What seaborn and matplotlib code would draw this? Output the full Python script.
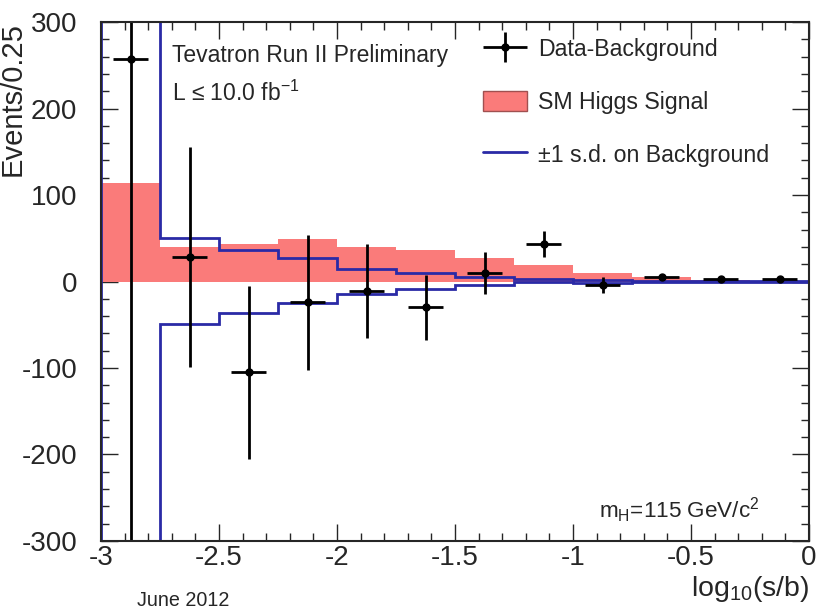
import numpy as np
import seaborn as sns
import matplotlib.pyplot as plt
from matplotlib.patches import Patch
from matplotlib.lines import Line2D
from matplotlib.legend_handler import HandlerErrorbar
from matplotlib.ticker import MultipleLocator

# bin edges in log10(s/b)
edges = [-3.0, -2.75, -2.5, -2.25, -2.0, -1.75, -1.5, -1.25, -1.0, -0.75, -0.5, -0.25, 0.0]

# SM Higgs signal per bin
signal = [114, 40, 43, 49, 40, 36, 27, 19, 10, 5, 2, 1]

# +-1 s.d. on background (first bin is off scale)
bkg_up = [400, 50, 37, 27, 15, 10, 5, 3, 1.5, 1, 0.5, 0.5]
bkg_down = [-400, -49, -36, -25, -15, -9, -4, -1, -1.5, -1, -0.5, -0.5]

# data minus background
data_x = [-2.875, -2.625, -2.375, -2.125, -1.875, -1.625, -1.375, -1.125, -0.875, -0.625, -0.375, -0.125]
data_y = [257, 28, -105, -24, -11, -30, 10, 43, -4, 5, 2.5, 2.5]
data_err = [600, 127, 100, 78, 54, 38, 24, 15, 9, 3, 2, 2]

sns.set_style("ticks")
plt.rcParams["font.family"] = ["Liberation Sans", "DejaVu Sans"]
plt.rcParams["axes.unicode_minus"] = False
plt.rcParams["mathtext.fontset"] = "custom"
plt.rcParams["mathtext.rm"] = "Liberation Sans"
plt.rcParams["mathtext.it"] = "Liberation Sans"

fig = plt.figure(figsize=(8.18, 6.13), dpi=100)
ax = fig.add_axes([0.1235, 0.1175, 0.8655, 0.8465])

red = "#fa7b7a"
blue = "#2a2aa6"

centers = [(a + b) / 2 for a, b in zip(edges[:-1], edges[1:])]
sns.histplot(x=centers, weights=signal, bins=edges, element="step", fill=True,
             color=red, alpha=1, linewidth=0, ax=ax)

ax.stairs(bkg_up, edges, baseline=0, color=blue, linewidth=2)
ax.stairs(bkg_down, edges, baseline=0, color=blue, linewidth=2)

data_eb = ax.errorbar(data_x, data_y, xerr=0.073, yerr=data_err, fmt="o", color="black",
                      markersize=5, elinewidth=2, capsize=0)

ax.set_xlim(-3, 0)
ax.set_ylim(-300, 300)
ax.xaxis.set_major_locator(MultipleLocator(0.5))
ax.xaxis.set_minor_locator(MultipleLocator(0.1))
ax.yaxis.set_major_locator(MultipleLocator(100))
ax.yaxis.set_minor_locator(MultipleLocator(20))
ax.tick_params(which="both", direction="in", top=True, right=True, labelsize=20)
ax.tick_params(axis="x", pad=3)
ax.tick_params(axis="y", pad=17)
ax.tick_params(which="major", length=12, width=1)
ax.tick_params(which="minor", length=6, width=1)
ax.set_xticks([-3, -2.5, -2, -1.5, -1, -0.5, 0])
ax.set_xticklabels(["-3", "-2.5", "-2", "-1.5", "-1", "-0.5", "0"])
for s in ax.spines.values():
    s.set_linewidth(1.5)

ax.set_xlabel("log$_{10}$(s/b)", fontsize=20.5, loc="right", labelpad=2)
ax.set_ylabel("Events/0.25", fontsize=21, loc="top")
ax.yaxis.set_label_coords(-0.1045, 1.0)

ax.text(0.1, 0.935, "Tevatron Run II Preliminary", transform=ax.transAxes, fontsize=16.5, va="center")
ax.text(0.1, 0.862, "L \u2264 10.0 fb$^{-1}$", transform=ax.transAxes, fontsize=16.5, va="center")
ax.text(0.703, 0.06, "m$_{\\mathrm{H}}$=115 GeV/c$^{2}$", transform=ax.transAxes, fontsize=16.2, va="center")
fig.text(0.168, 0.02, "June 2012", fontsize=14.2, va="center")

handles = [
    data_eb,
    Patch(facecolor=red, edgecolor="#a05050"),
    Line2D([0], [0], color=blue, linewidth=2),
]
labels = ["Data-Background", "SM Higgs Signal", "\u00b11 s.d. on Background"]
leg = ax.legend(handles, labels, loc="upper left", bbox_to_anchor=(0.51, 1.01),
                frameon=False, fontsize=16.7, handlelength=1.9, handletextpad=0.47,
                labelspacing=1.27, handleheight=1.0,
                handler_map={type(data_eb): HandlerErrorbar(xerr_size=0.95, yerr_size=0.65)})

fig.savefig("out.png", dpi=100)
